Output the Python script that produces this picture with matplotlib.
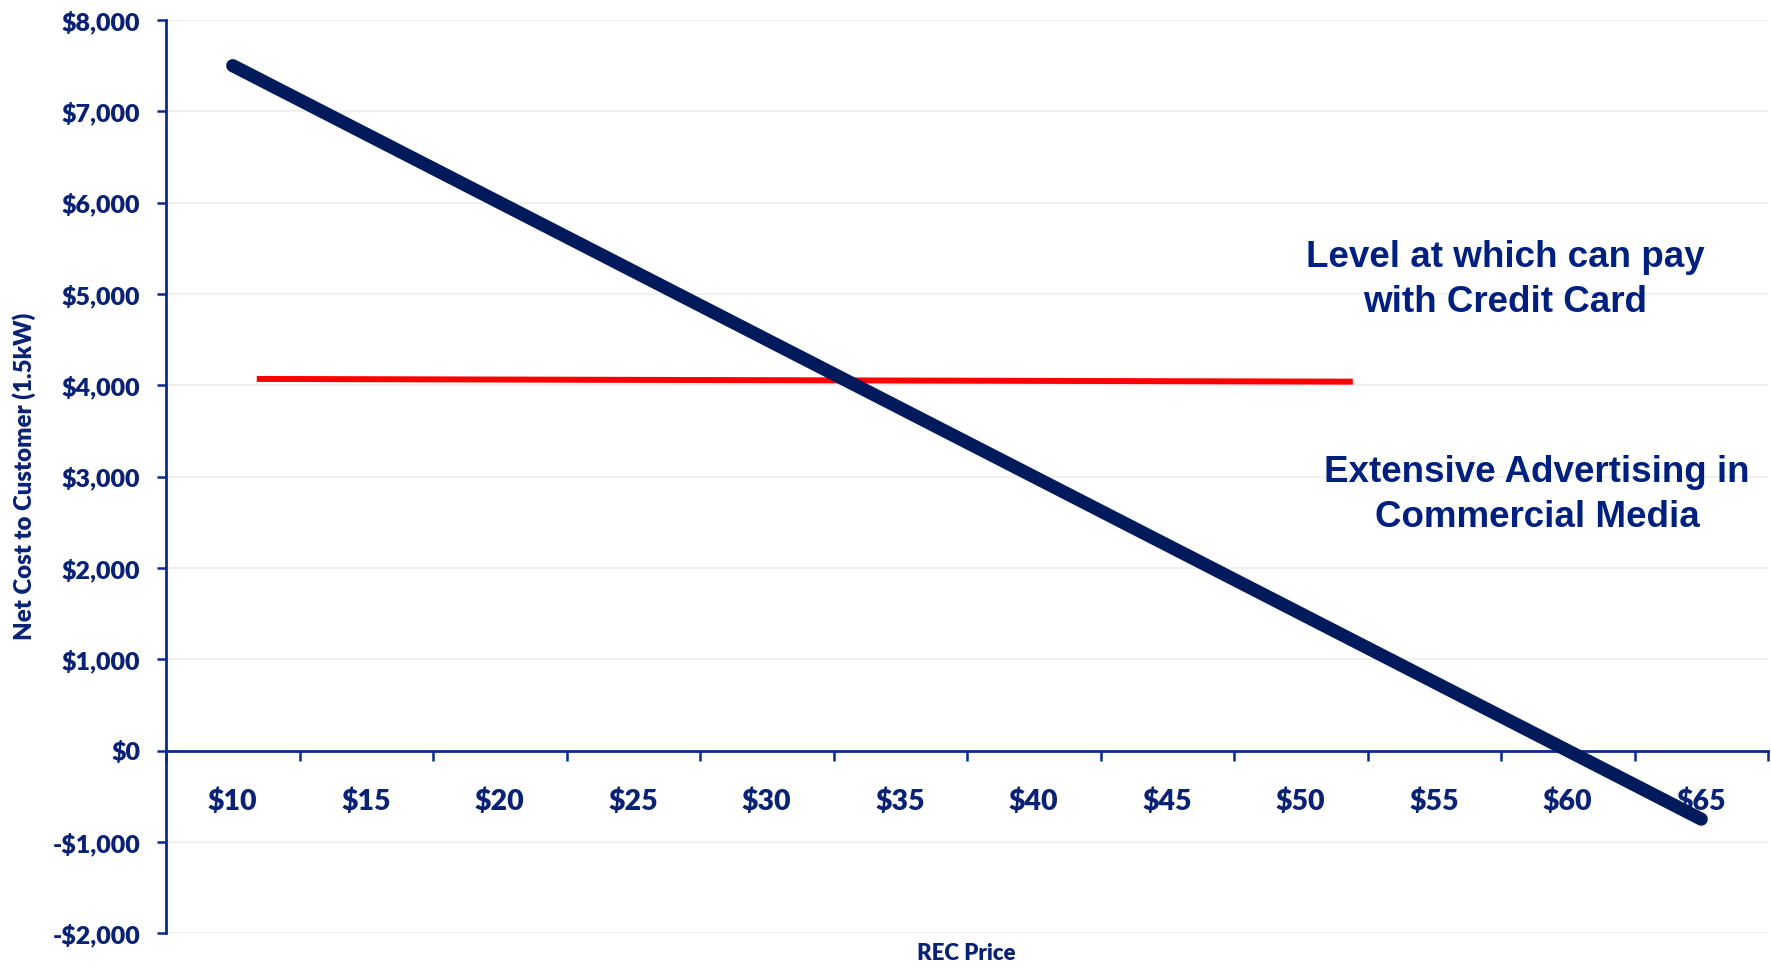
import matplotlib
matplotlib.use("Agg")
import matplotlib.pyplot as plt
import numpy as np

# ---- data ----
categories = ["$10", "$15", "$20", "$25", "$30", "$35", "$40", "$45", "$50", "$55", "$60", "$65"]
net_cost = [7500, 6750, 6000, 5250, 4500, 3750, 3000, 2250, 1500, 750, 0, -750]
# credit-card level line (drawn shape), x in category-index units
credit_x = [0.18, 8.39]
credit_y = [4070, 4040]
y_ticks = [-2000, -1000, 0, 1000, 2000, 3000, 4000, 5000, 6000, 7000, 8000]
y_tick_labels = ["-$2,000", "-$1,000", "$0", "$1,000", "$2,000", "$3,000",
                 "$4,000", "$5,000", "$6,000", "$7,000", "$8,000"]
note1 = "Level at which can pay\nwith Credit Card"
note2 = "Extensive Advertising in\nCommercial Media"

NAVY_LINE = "#001a5c"
NAVY_TEXT = "#002080"
AXIS_COL = "#0b2a8c"
TICK_TXT = "#0a2275"

plt.rcParams['font.family'] = ['Lato', 'DejaVu Sans']

fig = plt.figure(figsize=(17.71, 9.68), dpi=100)
ax = fig.add_axes([166/1771, 1-933.3/968, (1768-166)/1771, (933.3-20)/968])

x = np.arange(len(categories))
ax.set_xlim(-0.5, len(categories) - 0.5)
ax.set_ylim(-2000, 8000)

# gridlines
ax.set_yticks(y_ticks)
ax.yaxis.grid(True, color="#f0f0f0", linewidth=1.5)
ax.set_axisbelow(True)

ax.plot(credit_x, credit_y, color="#ff0000", linewidth=4.3, solid_capstyle='butt', zorder=3)
ax.plot(x, net_cost, color=NAVY_LINE, linewidth=9.5, solid_capstyle='round', zorder=4)

# spines
for s in ["top", "right"]:
    ax.spines[s].set_visible(False)
ax.spines["left"].set_color(AXIS_COL)
ax.spines["left"].set_linewidth(2.0)
ax.spines["bottom"].set_color(AXIS_COL)
ax.spines["bottom"].set_linewidth(2.0)
ax.spines["bottom"].set_position(("data", 0))

# y ticks
ax.set_yticklabels(y_tick_labels, fontsize=18, fontweight='heavy', color=TICK_TXT)
ax.tick_params(axis='y', direction='out', length=6.5, width=1.8, color=AXIS_COL, pad=12)

# x ticks: labels at centres, marks at boundaries
ax.set_xticks(x)
ax.set_xticklabels(categories, fontsize=20.5, fontweight='heavy', color=TICK_TXT)
ax.tick_params(axis='x', which='major', length=0, pad=27)
ax.set_xticks(np.arange(-0.5, len(categories)), minor=True)
ax.tick_params(axis='x', which='minor', direction='out', length=7, width=1.8, color=AXIS_COL)

# axis labels
fig.text(24/1771, 1-476/968, "Net Cost to Customer (1.5kW)", rotation=90,
         ha='center', va='center', fontsize=17.3, fontweight='heavy', color=TICK_TXT)
fig.text(966/1771, 1-954/968, "REC Price", ha='center', va='center',
         fontsize=16, fontweight='heavy', color=TICK_TXT)

# annotations
fig.text(1505/1771, 1-280/968, note1, ha='center', va='center', fontsize=26.5,
         fontweight='bold', color=NAVY_TEXT, family=['Liberation Sans', 'DejaVu Sans'],
         linespacing=1.34)
fig.text(1537/1771, 1-495/968, note2, ha='center', va='center', fontsize=26.5,
         fontweight='bold', color=NAVY_TEXT, family=['Liberation Sans', 'DejaVu Sans'],
         linespacing=1.34)

fig.savefig("out.png", dpi=100)
